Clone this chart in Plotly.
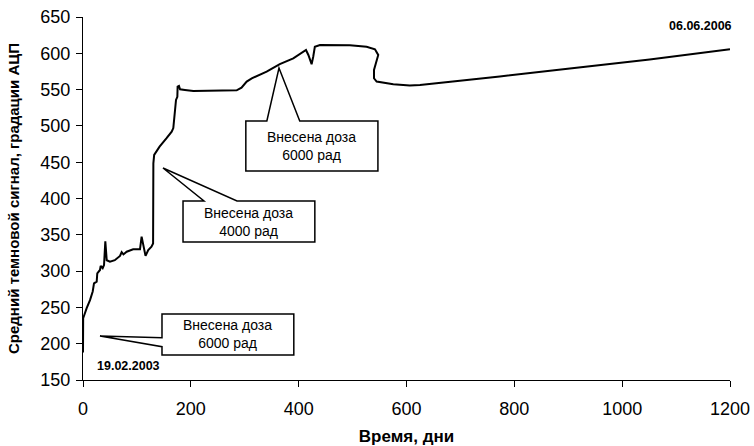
import plotly.graph_objects as go

# Dark signal record: days since start vs. mean dark signal (ADC counts)
days = [0, 0.3, 6.8, 13, 18, 20.4, 25.4, 26.5, 31.5, 32.8, 36.5, 39, 41.4, 44, 50, 59,
        68.6, 71.7, 75, 81, 93, 105.7, 108.7, 113, 116, 121, 127, 130, 130.5, 132, 142,
        155, 164.5, 167.5, 168.8, 170.6, 172.5, 175, 175.5, 178, 180, 189, 204.6, 285,
        294, 303.6, 313, 340.6, 365, 390, 413.6, 418, 424, 427, 430, 439.5, 458, 495,
        526, 541.5, 547.6, 544.6, 539.7, 539.7, 544.6, 575.5, 606, 625, 700, 773, 903,
        1051, 1200]
signal = [188, 235, 249, 260, 272, 283, 285.5, 297, 301.5, 307, 304, 308.4, 341, 315, 313, 315,
          320.8, 326, 323, 326.7, 330, 330, 347.5, 331.4, 321, 329, 333.6, 338, 448.5, 460, 471.4,
          483, 492, 497, 508, 524, 535.7, 540, 554, 555, 550.4, 549.5, 548, 549,
          552.6, 561, 565.5, 574.7, 585, 593, 604.5, 597.7, 585, 595.3, 609, 611.4, 611.4, 611,
          609, 605.5, 597.7, 588.4, 577, 565.6, 561, 557.5, 555.5, 556.5, 562, 568, 579,
          591.5, 605.5]

x_ticks = [0, 200, 400, 600, 800, 1000, 1200]
y_ticks = [150, 200, 250, 300, 350, 400, 450, 500, 550, 600, 650]

# Dose callouts: text, box (x0, x1, y0, y1), pointer tip, pointer base points
callout_text = ["Внесена доза<br>6000 рад", "Внесена доза<br>4000 рад", "Внесена доза<br>6000 рад"]
callout_box = [(146.5, 391, 184.4, 241), (185.5, 430, 340, 396.6), (302, 547, 438, 506.7)]
callout_tip = [(31.5, 210.6), (148.4, 442), (363.5, 579.8)]
callout_side = ["left", "top", "top"]
callout_base = [(208.3, 195.9), (224.4, 285.6), (341, 402)]

FONT = "Liberation Sans, Arial, sans-serif"

fig = go.Figure()
fig.add_trace(go.Scatter(x=days, y=signal, mode="lines",
                         line=dict(color="black", width=2), showlegend=False,
                         hoverinfo="skip"))

shapes = []
annotations = []
for text, box, tip, side, base in zip(callout_text, callout_box, callout_tip,
                                      callout_side, callout_base):
    x0, x1, y0, y1 = box
    tx, ty = tip
    b1, b2 = base
    if side == "top":
        path = (f"M {x0},{y1} L {b1},{y1} L {tx},{ty} L {b2},{y1} L {x1},{y1} "
                f"L {x1},{y0} L {x0},{y0} Z")
    else:
        path = (f"M {x0},{y1} L {x1},{y1} L {x1},{y0} L {x0},{y0} L {x0},{b2} "
                f"L {tx},{ty} L {x0},{b1} Z")
    shapes.append(dict(type="path", xref="x", yref="y", path=path,
                       fillcolor="white", line=dict(color="black", width=1.5)))
    annotations.append(dict(x=(x0 + x1) / 2, y=(y0 + y1) / 2, xref="x", yref="y",
                            text=text, showarrow=False,
                            font=dict(family=FONT, size=14, color="black")))

# Start and end dates of the record
annotations.append(dict(x=85, y=169, xref="x", yref="y", text="<b>19.02.2003</b>",
                        showarrow=False, font=dict(family=FONT, size=12.5, color="black")))
annotations.append(dict(x=1146, y=638, xref="x", yref="y", text="<b>06.06.2006</b>",
                        showarrow=False, font=dict(family=FONT, size=12.5, color="black")))

fig.update_layout(
    width=754, height=446,
    margin=dict(l=83, r=24, t=17, b=66),
    paper_bgcolor="white", plot_bgcolor="white",
    font=dict(family=FONT, color="black"),
    shapes=shapes, annotations=annotations,
    xaxis=dict(range=[0, 1200], tickvals=x_ticks, ticks="outside", ticklen=6,
               tickcolor="black", showline=True, linecolor="black", linewidth=1,
               showgrid=False, zeroline=False, tickfont=dict(size=18),
               ticklabelstandoff=6, automargin=False,
               title=dict(text="<b>Время, дни</b>", font=dict(size=17), standoff=19)),
    yaxis=dict(range=[150, 650], tickvals=y_ticks, ticks="outside", ticklen=6,
               tickcolor="black", showline=True, linecolor="black", linewidth=1,
               showgrid=False, zeroline=False, tickfont=dict(size=18),
               ticklabelstandoff=2, automargin=False,
               title=dict(text="<b>Средний темновой сигнал, градации АЦП</b>",
                          font=dict(size=15), standoff=17)),
)

fig.write_html("out.html")
